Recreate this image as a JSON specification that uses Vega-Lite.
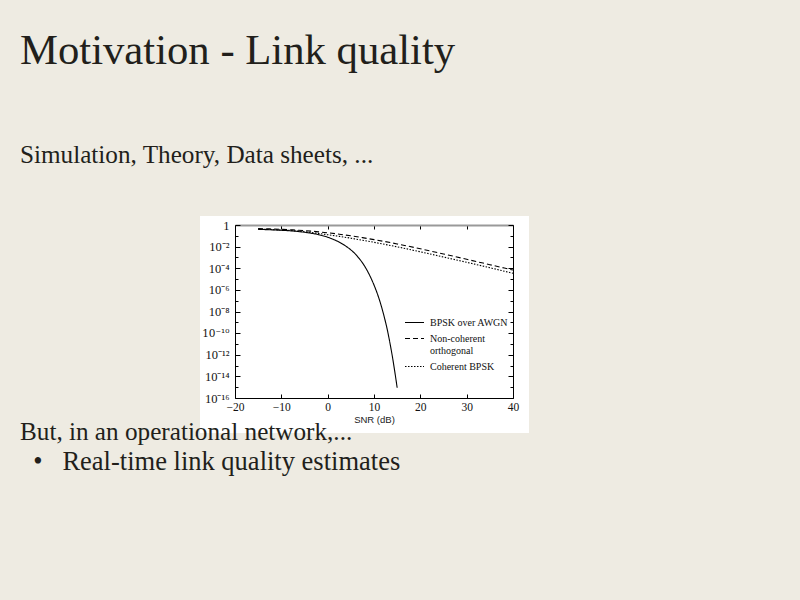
{
  "$schema": "https://vega.github.io/schema/vega-lite/v6.json",
  "background": "#eeebe2",
  "padding": {"left": 20, "right": 91, "top": 30, "bottom": 140},
  "title": {
    "text": "Motivation - Link quality",
    "subtitle": "Simulation, Theory, Data sheets, ...",
    "anchor": "start",
    "frame": "group",
    "font": "Liberation Serif",
    "fontSize": 42.7,
    "fontWeight": "normal",
    "color": "#221f1b",
    "subtitleFont": "Liberation Serif",
    "subtitleFontSize": 25.2,
    "subtitleColor": "#221f1b",
    "subtitlePadding": 70,
    "offset": 48
  },
  "datasets": {
    "curves": [
      {"series": "BPSK over AWGN", "snr": -15, "ber": 0.398},
      {"series": "BPSK over AWGN", "snr": -12, "ber": 0.355},
      {"series": "BPSK over AWGN", "snr": -10, "ber": 0.324},
      {"series": "BPSK over AWGN", "snr": -8, "ber": 0.288},
      {"series": "BPSK over AWGN", "snr": -6, "ber": 0.24},
      {"series": "BPSK over AWGN", "snr": -4, "ber": 0.186},
      {"series": "BPSK over AWGN", "snr": -2, "ber": 0.129},
      {"series": "BPSK over AWGN", "snr": 0, "ber": 0.0741},
      {"series": "BPSK over AWGN", "snr": 1, "ber": 0.0513},
      {"series": "BPSK over AWGN", "snr": 2, "ber": 0.0331},
      {"series": "BPSK over AWGN", "snr": 3, "ber": 0.0195},
      {"series": "BPSK over AWGN", "snr": 4, "ber": 0.0105},
      {"series": "BPSK over AWGN", "snr": 5, "ber": 0.00501},
      {"series": "BPSK over AWGN", "snr": 6, "ber": 0.002},
      {"series": "BPSK over AWGN", "snr": 7, "ber": 6.31e-4},
      {"series": "BPSK over AWGN", "snr": 8, "ber": 1.51e-4},
      {"series": "BPSK over AWGN", "snr": 9, "ber": 2.51e-5},
      {"series": "BPSK over AWGN", "snr": 10, "ber": 2.82e-6},
      {"series": "BPSK over AWGN", "snr": 11, "ber": 2.0e-7},
      {"series": "BPSK over AWGN", "snr": 12, "ber": 7.08e-9},
      {"series": "BPSK over AWGN", "snr": 13, "ber": 1.12e-10},
      {"series": "BPSK over AWGN", "snr": 13.5, "ber": 8.9e-12},
      {"series": "BPSK over AWGN", "snr": 14, "ber": 5.62e-13},
      {"series": "BPSK over AWGN", "snr": 14.5, "ber": 2.5e-14},
      {"series": "BPSK over AWGN", "snr": 15, "ber": 8.91e-16},
      {"series": "Non-coherent orthogonal", "snr": -15, "ber": 0.468},
      {"series": "Non-coherent orthogonal", "snr": -12.5, "ber": 0.437},
      {"series": "Non-coherent orthogonal", "snr": -10, "ber": 0.398},
      {"series": "Non-coherent orthogonal", "snr": -7.5, "ber": 0.355},
      {"series": "Non-coherent orthogonal", "snr": -5, "ber": 0.302},
      {"series": "Non-coherent orthogonal", "snr": -2.5, "ber": 0.245},
      {"series": "Non-coherent orthogonal", "snr": 0, "ber": 0.191},
      {"series": "Non-coherent orthogonal", "snr": 2.5, "ber": 0.141},
      {"series": "Non-coherent orthogonal", "snr": 5, "ber": 0.1},
      {"series": "Non-coherent orthogonal", "snr": 7.5, "ber": 0.0676},
      {"series": "Non-coherent orthogonal", "snr": 10, "ber": 0.0447},
      {"series": "Non-coherent orthogonal", "snr": 15, "ber": 0.0178},
      {"series": "Non-coherent orthogonal", "snr": 20, "ber": 0.00631},
      {"series": "Non-coherent orthogonal", "snr": 25, "ber": 0.00209},
      {"series": "Non-coherent orthogonal", "snr": 30, "ber": 6.76e-4},
      {"series": "Non-coherent orthogonal", "snr": 35, "ber": 2.14e-4},
      {"series": "Non-coherent orthogonal", "snr": 40, "ber": 6.76e-5},
      {"series": "Coherent BPSK", "snr": -15, "ber": 0.417},
      {"series": "Coherent BPSK", "snr": -12.5, "ber": 0.38},
      {"series": "Coherent BPSK", "snr": -10, "ber": 0.347},
      {"series": "Coherent BPSK", "snr": -7.5, "ber": 0.302},
      {"series": "Coherent BPSK", "snr": -5, "ber": 0.24},
      {"series": "Coherent BPSK", "snr": -2.5, "ber": 0.178},
      {"series": "Coherent BPSK", "snr": 0, "ber": 0.126},
      {"series": "Coherent BPSK", "snr": 2.5, "ber": 0.0891},
      {"series": "Coherent BPSK", "snr": 5, "ber": 0.0603},
      {"series": "Coherent BPSK", "snr": 7.5, "ber": 0.0389},
      {"series": "Coherent BPSK", "snr": 10, "ber": 0.0251},
      {"series": "Coherent BPSK", "snr": 15, "ber": 0.00955},
      {"series": "Coherent BPSK", "snr": 20, "ber": 0.00331},
      {"series": "Coherent BPSK", "snr": 25, "ber": 0.0011},
      {"series": "Coherent BPSK", "snr": 30, "ber": 3.55e-4},
      {"series": "Coherent BPSK", "snr": 35, "ber": 1.12e-4},
      {"series": "Coherent BPSK", "snr": 40, "ber": 3.39e-5}
    ],
    "bullets": [
      {"line": 1, "text": "But, in an operational network,..."},
      {"line": 2, "text": "\u200d\u00a0\u00a0•\u00a0\u00a0\u00a0Real-time link quality estimates"}
    ]
  },
  "vconcat": [
    {
      "width": 329,
      "height": 217,
      "view": {"fill": "white", "stroke": null},
      "data": {"name": "curves"},
      "layer": [
        {
          "transform": [{"filter": "datum.series == 'BPSK over AWGN'"}],
          "mark": {"type": "line", "color": "black", "strokeWidth": 1.1, "interpolate": "monotone"},
          "encoding": {
            "x": {
              "field": "snr", "type": "quantitative",
              "scale": {"domain": [-20, 40], "range": [35, 313], "nice": false, "zero": false},
              "axis": {
                "orient": "bottom", "offset": -35, "values": [-20, -10, 0, 10, 20, 30, 40], "format": "d",
                "tickSize": -4, "labelPadding": 7, "labelFlush": false, "labelOverlap": false,
                "domainColor": "black", "tickColor": "black", "grid": false,
                "labelFont": "Liberation Serif", "labelFontSize": 11.5, "labelColor": "#111",
                "title": "SNR (dB)", "titleFont": "Liberation Sans", "titleFontSize": 9.5,
                "titleFontWeight": "normal", "titleColor": "#222", "titlePadding": 2
              }
            },
            "y": {
              "field": "ber", "type": "quantitative",
              "scale": {"type": "log", "domain": [1e-16, 1], "range": [182, 9], "nice": false},
              "axis": {
                "orient": "left", "offset": -35,
                "values": [1, 0.1, 0.01, 0.001, 1e-4, 1e-5, 1e-6, 1e-7, 1e-8, 1e-9, 1e-10, 1e-11, 1e-12, 1e-13, 1e-14, 1e-15, 1e-16],
                "labelExpr": "['1','','10⁻²','','10⁻⁴','','10⁻⁶','','10⁻⁸','','10⁻¹⁰','','10⁻¹²','','10⁻¹⁴','','10⁻¹⁶'][round(-log(datum.value)/LN10)]",
                "tickSize": {"condition": {"test": "round(-log(datum.value)/LN10) % 2 == 0", "value": -5}, "value": -3},
                "labelPadding": 11, "labelFlush": false, "labelOverlap": false, "labelBound": false,
                "domainColor": "black", "tickColor": "black", "grid": false,
                "labelFont": {"condition": {"test": "round(-log(datum.value)/LN10) == 10", "value": "DejaVu Serif"}, "value": "Liberation Serif"},
                "labelFontSize": {"condition": {"test": "round(-log(datum.value)/LN10) == 10", "value": 10.5}, "value": 12.5},
                "labelColor": "#111",
                "title": null
              }
            },
            "strokeDash": {
              "field": "series", "type": "nominal",
              "scale": {"domain": ["BPSK over AWGN", "Non-coherent orthogonal", "Coherent BPSK"], "range": [[1, 0], [5, 3], [1.5, 1.5]]},
              "legend": {
                "orient": "none", "legendX": 384, "legendY": 96, "title": null,
                "symbolType": "stroke", "symbolSize": 361, "symbolStrokeWidth": 1.1, "symbolStrokeColor": "black",
                "labelFont": "Liberation Serif", "labelFontSize": 10, "labelColor": "#111", "labelOffset": 5,
                "rowPadding": 0, "labelLimit": 200,
                "labelExpr": "datum.label == 'Non-coherent orthogonal' ? ['Non-coherent', 'orthogonal'] : datum.label"
              }
            }
          }
        },
        {
          "transform": [{"filter": "datum.series != 'BPSK over AWGN'"}],
          "mark": {"type": "line", "color": "black", "strokeWidth": 1.1, "interpolate": "monotone"},
          "encoding": {
            "x": {
              "field": "snr", "type": "quantitative",
              "scale": {"domain": [-20, 40], "range": [35, 313], "nice": false, "zero": false},
              "axis": {
                "orient": "top", "offset": -9, "values": [-20, -10, 0, 10, 20, 30, 40],
                "tickSize": -4, "labels": false, "domainColor": "#999", "domainWidth": 2,
                "tickColor": "black", "grid": false, "title": null
              }
            },
            "y": {
              "field": "ber", "type": "quantitative",
              "scale": {"type": "log", "domain": [1e-16, 1], "range": [182, 9], "nice": false},
              "axis": {
                "orient": "right", "offset": -16,
                "values": [1, 0.1, 0.01, 0.001, 1e-4, 1e-5, 1e-6, 1e-7, 1e-8, 1e-9, 1e-10, 1e-11, 1e-12, 1e-13, 1e-14, 1e-15, 1e-16],
                "tickSize": {"condition": {"test": "round(-log(datum.value)/LN10) % 2 == 0", "value": -5}, "value": -3},
                "labels": false, "domainColor": "black", "tickColor": "black", "grid": false, "title": null
              }
            },
            "strokeDash": {
              "field": "series", "type": "nominal",
              "scale": {"domain": ["BPSK over AWGN", "Non-coherent orthogonal", "Coherent BPSK"], "range": [[1, 0], [5, 3], [1.5, 1.5]]}
            }
          }
        }
      ],
      "resolve": {"axis": {"x": "independent", "y": "independent"}}
    },
    {
      "width": 689,
      "height": 30,
      "view": {"stroke": null},
      "data": {"name": "bullets"},
      "mark": {"type": "text", "align": "left", "baseline": "alphabetic", "font": "Liberation Serif", "color": "#221f1b"},
      "encoding": {
        "y": {"field": "line", "type": "ordinal", "axis": null, "scale": {"padding": 0}},
        "x": {"datum": 0, "type": "quantitative", "scale": {"domain": [0, 1]}, "axis": null},
        "text": {"field": "text"},
        "size": {"condition": {"test": "datum.line == 1", "value": 25.2}, "value": 26.5}
      }
    }
  ],
  "spacing": 7,
  "bounds": "flush",
  "center": true,
  "config": {"view": {"stroke": null}}
}
